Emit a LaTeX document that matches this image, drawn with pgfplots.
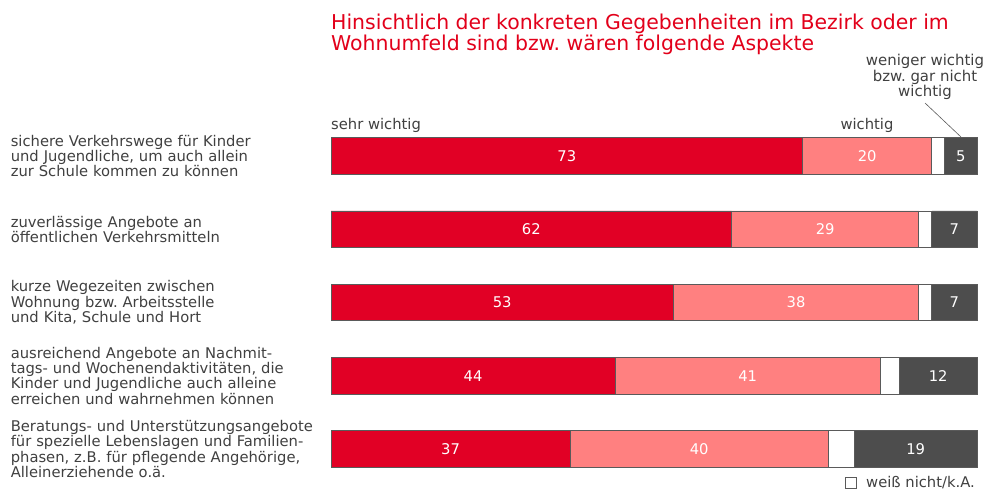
\documentclass[border=0pt]{standalone}
\usepackage{fontspec}
\setmainfont{DejaVu Sans}
\usepackage{pgfplots}
\usepackage{pgfplotstable}
\pgfplotsset{compat=1.18}
\definecolor{rot}{HTML}{E10025}
\definecolor{titelrot}{HTML}{E2001A}
\definecolor{rosa}{HTML}{FF8080}
\definecolor{dunkel}{HTML}{4D4D4D}
\definecolor{txt}{HTML}{404040}
\definecolor{rahmen}{HTML}{5A5A5A}
\frenchspacing

% Anteile in Prozent: sehr wichtig, wichtig, weiss nicht/k.A., weniger/gar nicht wichtig
\pgfplotstableread{
y a b c d
1 73 20 2 5
2 62 29 2 7
3 53 38 2 7
4 44 41 3 12
5 37 40 4 19
}\daten

\newcommand\tx{\fontsize{14.8}{13.5}\selectfont}
\pgfplotsset{basis/.style={
    scale only axis, width=646bp, height=366.25bp,
    at={(331bp,-485.6bp)}, anchor=south west,
    xmin=0, xmax=100, ymin=0.5, ymax=5.5, y dir=reverse,
    axis line style={draw=none}, xtick=\empty, major tick length=0pt,
    clip=false}}

\begin{document}
\begin{tikzpicture}
\useasboundingbox (0,0) rectangle (983bp,-490bp);

\begin{axis}[basis,
    xbar stacked, bar width=36.5bp,
    ytick={1,2,3,4,5},
    yticklabel style={text width=315bp, align=left, anchor=east, inner sep=0pt,
        xshift=-5bp, text=txt, font=\tx},
    yticklabels={
      {sichere Verkehrswege für Kinder\\und Jugendliche, um auch allein\\zur Schule kommen zu können},
      {zuverlässige Angebote an\\öffentlichen Verkehrsmitteln},
      {kurze Wegezeiten zwischen\\Wohnung bzw. Arbeitsstelle\\und Kita, Schule und Hort},
      {ausreichend Angebote an Nachmit-\\tags- und Wochenendaktivitäten, die\\Kinder und Jugendliche auch alleine\\erreichen und wahrnehmen können},
      {Beratungs- und Unterstützungsangebote\\für spezielle Lebenslagen und Familien-\\phasen, z.B. für pflegende Angehörige,\\Alleinerziehende o.ä.}}]
  \addplot[fill=rot, draw=rahmen, line width=0.8bp] table[x=a, y=y] {\daten};
  \addplot[fill=rosa, draw=rahmen, line width=0.8bp] table[x=b, y=y] {\daten};
  \addplot[fill=white, draw=rahmen, line width=0.8bp] table[x=c, y=y] {\daten};
  \addplot[fill=dunkel, draw=rahmen, line width=0.8bp] table[x=d, y=y] {\daten};
\end{axis}

\begin{axis}[basis, ytick=\empty,
    nodes near coords, point meta=explicit symbolic,
    every node near coord/.style={anchor=center, text=white, font=\tx},
    legend style={at={(1,0.007)}, anchor=east, draw=none, fill=none, inner sep=0pt,
        font=\tx, text=txt,
        /tikz/every odd column/.append style={column sep=7bp}}]
  \addplot[draw=none, mark=none, forget plot] table[x expr=\thisrow{a}/2, y=y, meta=a] {\daten};
  \addplot[draw=none, mark=none, forget plot] table[x expr=\thisrow{a}+\thisrow{b}/2, y=y, meta=b] {\daten};
  \addplot[draw=none, mark=none, forget plot] table[x expr=100-\thisrow{d}/2, y=y, meta=d] {\daten};
  \addlegendimage{legend image code/.code={\draw[draw=rahmen, fill=white, line width=0.8bp] (0bp,-5.5bp) rectangle (11bp,5.5bp);}}
  \addlegendentry{weiß nicht/k.A.}
\end{axis}

% Titel und Kopfbeschriftungen
\node[anchor=base west, inner sep=0pt, text=titelrot, font=\fontsize{20.5}{21}\selectfont]
  at (331bp,-29bp) {Hinsichtlich der konkreten Gegebenheiten im Bezirk oder im};
\node[anchor=base west, inner sep=0pt, text=titelrot, font=\fontsize{20.5}{21}\selectfont]
  at (331bp,-50bp) {Wohnumfeld sind bzw. wären folgende Aspekte};
\node[anchor=base west, inner sep=0pt, text=txt, font=\tx] at (331bp,-129bp) {sehr wichtig};
\node[anchor=base, inner sep=0pt, text=txt, font=\tx] at (867bp,-129bp) {wichtig};
\node[anchor=north, inner sep=0pt, align=center, text=txt, font=\fontsize{15}{14}\selectfont]
  at (925bp,-54bp) {weniger wichtig\\bzw. gar nicht\\wichtig};
\draw[rahmen, line width=0.6bp] (925bp,-103bp) -- (961bp,-137bp);

\end{tikzpicture}
\end{document}
